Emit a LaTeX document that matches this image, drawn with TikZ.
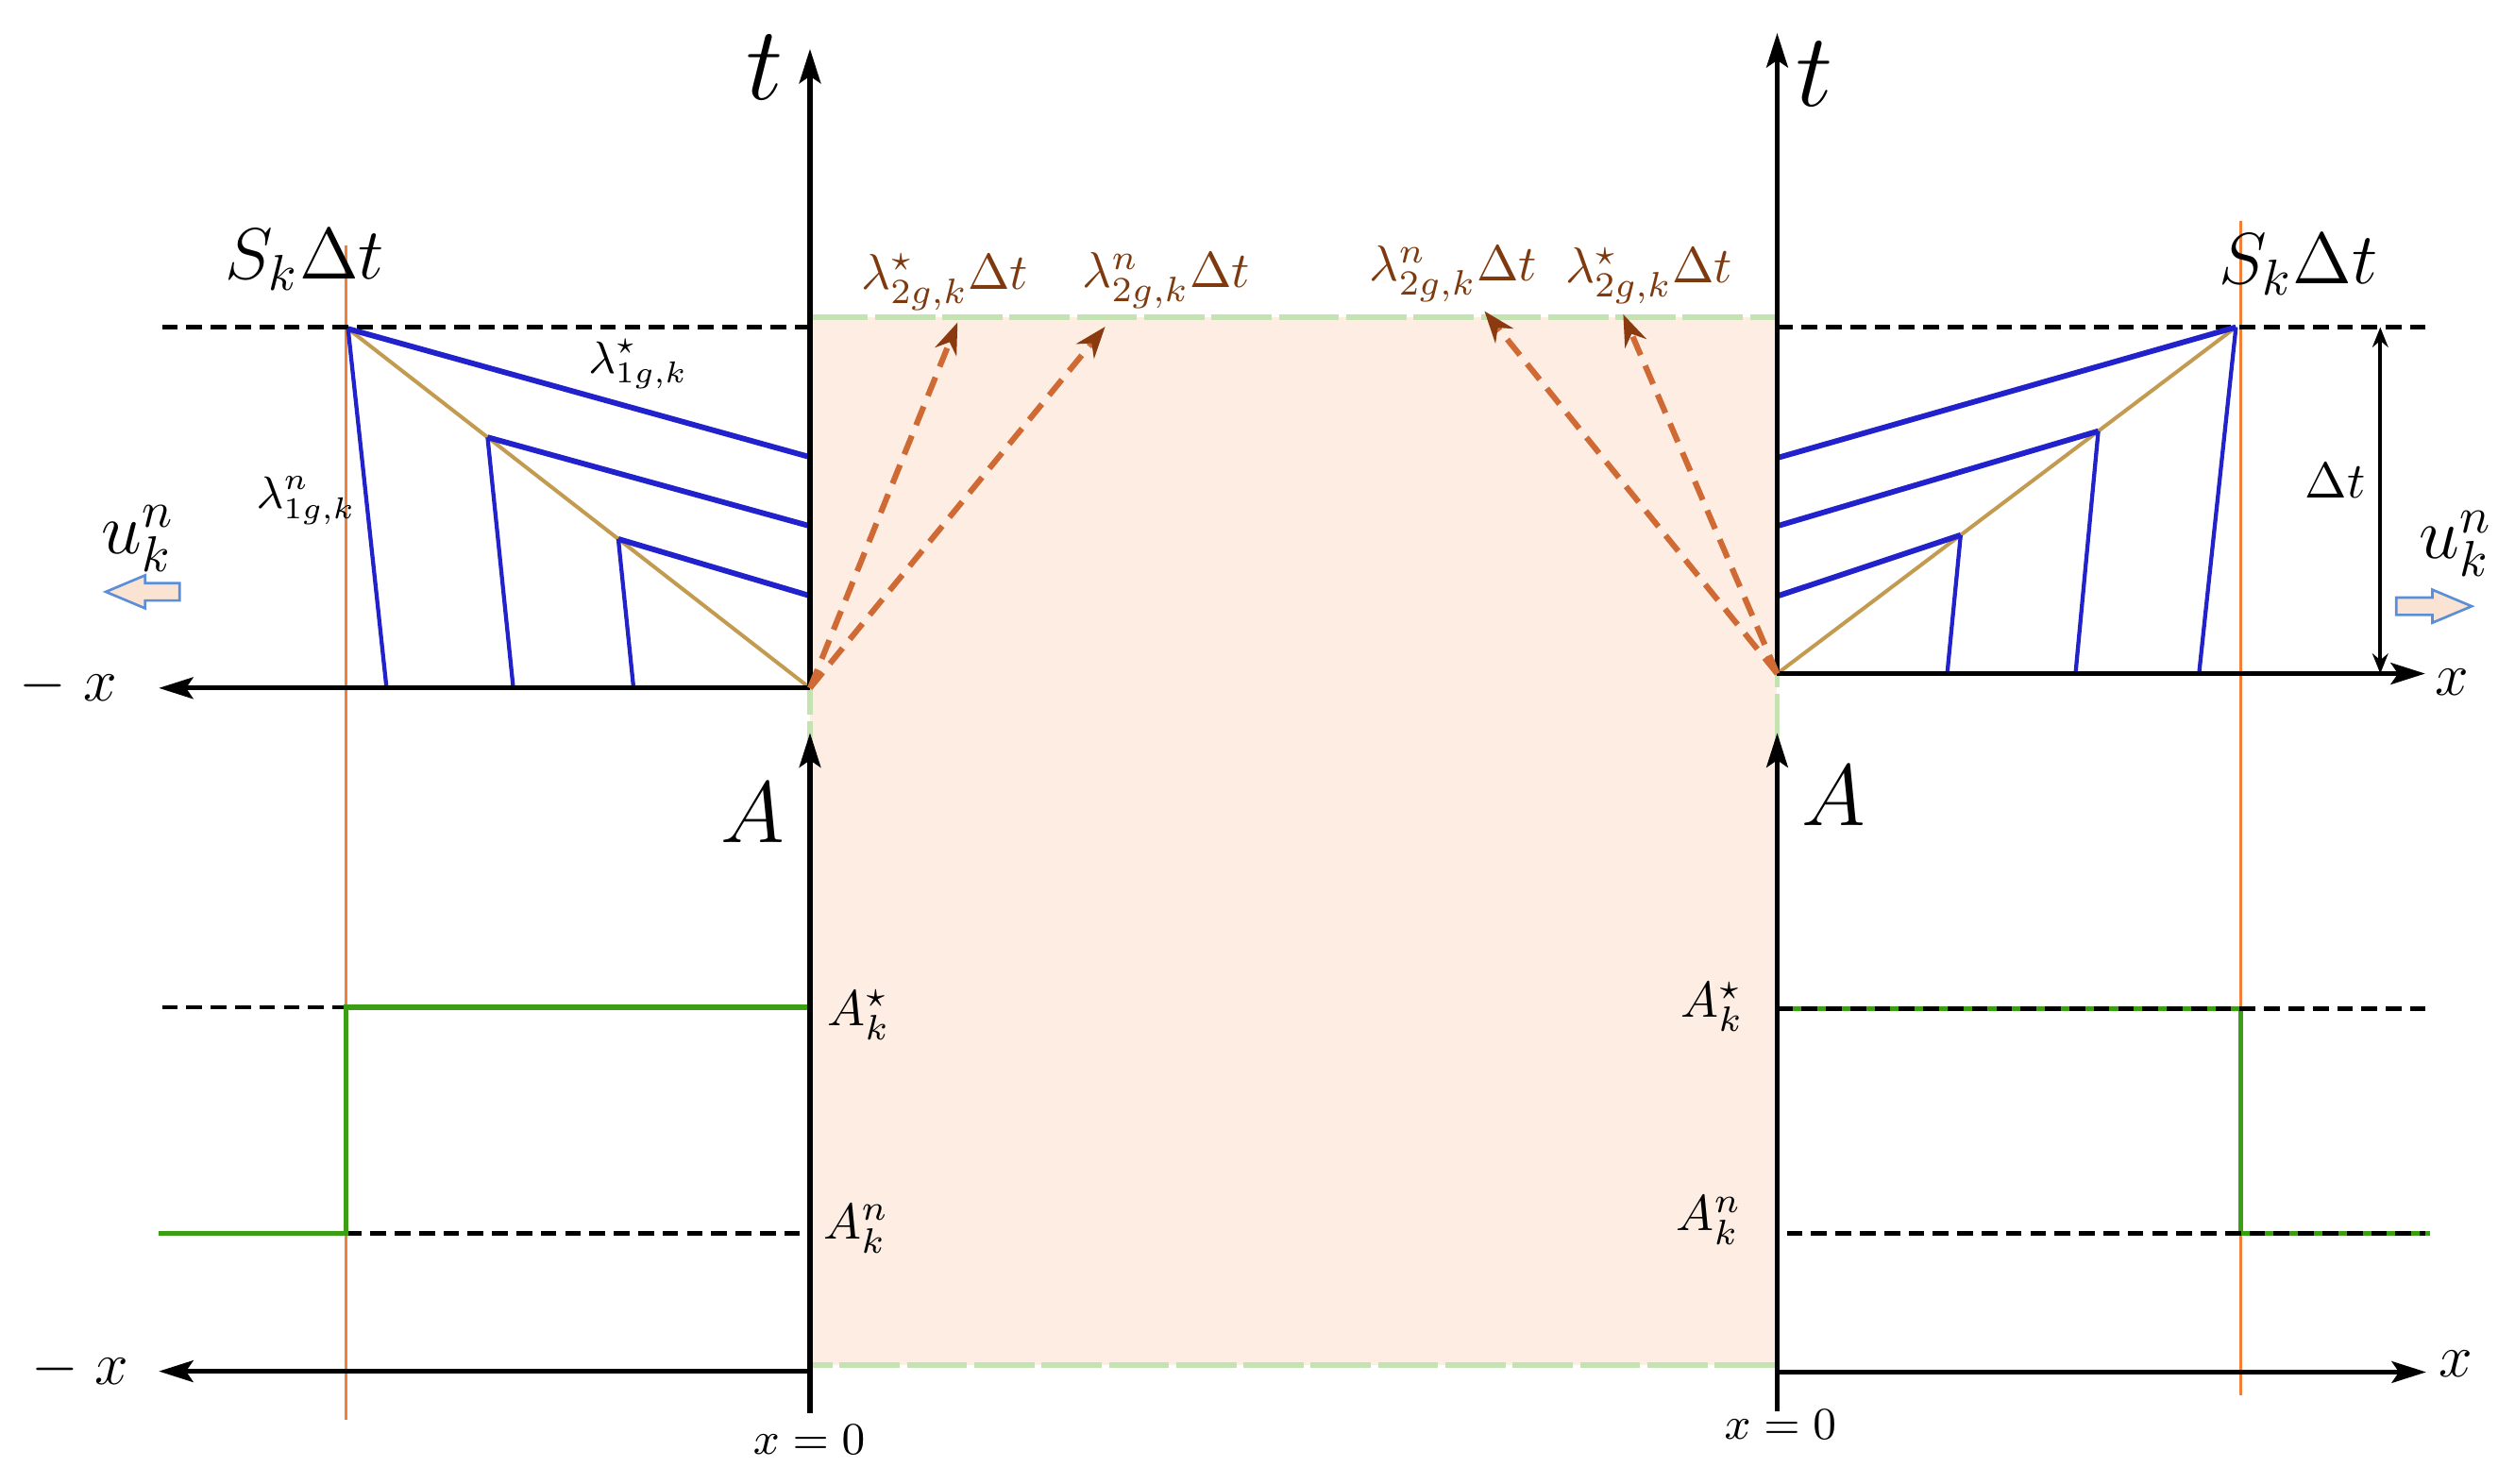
\documentclass[tikz,border=0pt]{standalone}
\usetikzlibrary{arrows.meta,calc}
\definecolor{peach}{RGB}{253,237,226}
\definecolor{rimgreen}{RGB}{197,227,178}
\definecolor{fanblue}{RGB}{34,34,204}
\definecolor{goldc}{RGB}{194,154,80}
\definecolor{shockc}{RGB}{240,128,56}
\definecolor{stepgreen}{RGB}{60,158,20}
\definecolor{wavec}{RGB}{208,106,53}
\definecolor{wavehead}{RGB}{138,58,14}
\definecolor{labbrown}{RGB}{126,58,14}
\definecolor{hollowfill}{RGB}{251,227,211}
\definecolor{hollowdraw}{RGB}{91,142,216}
\begin{document}
\begin{tikzpicture}[x=0.112mm,y=-0.112mm,
  axisline/.style={line width=0.95pt,black,-{Stealth[length=2.4mm,width=1.5mm,inset=0.5mm]}},
  refdash/.style={line width=0.9pt,black,dash pattern=on 1.1mm off 0.6mm},
  fanhi/.style={line width=1.1pt,fanblue},
  fanlo/.style={line width=0.8pt,fanblue},
  goldline/.style={line width=0.75pt,goldc},
  shockline/.style={line width=0.6pt,shockc},
  arealine/.style={line width=1pt,stepgreen},
  wave/.style={line width=1.15pt,wavec,dash pattern=on 1.4mm off 0.8mm,-{Stealth[length=2.2mm,width=1.6mm,color=wavehead]}},
  dtarrow/.style={line width=0.7pt,black,{Stealth[length=1.4mm,width=1.1mm]}-{Stealth[length=1.4mm,width=1.1mm]}},
  hollow/.style={line width=0.5pt,draw=hollowdraw,fill=hollowfill},
  lab/.style={inner sep=0pt},
  biglab/.style={inner sep=0pt,font=\huge},
  alab/.style={inner sep=0pt,font=\LARGE},
  xlab/.style={inner sep=0pt,font=\large},
  wlab/.style={inner sep=0pt,text=labbrown}
]
\useasboundingbox (0,0) rectangle (1568,925);

% ---------- shaded region ----------
\fill[peach] (505,198) rectangle (1108,851);
\draw[rimgreen,line width=1.1pt,dash pattern=on 4.2mm off 0.5mm] (505,198) rectangle (1108,851);

% ---------- coordinates ----------
\coordinate (oL) at (505,429);
\coordinate (oR) at (1108,420);
\coordinate (tLtop) at (505,30.5);
\coordinate (tRtop) at (1108,20.6);
\coordinate (xLtop) at (99,429);
\coordinate (xRtop) at (1512,420);
\coordinate (aLbot) at (505,881);
\coordinate (aLtop) at (505,457);
\coordinate (aRbot) at (1108,880);
\coordinate (aRtop) at (1108,457);
\coordinate (bL) at (505,855);
\coordinate (bLend) at (99,855);
\coordinate (bR) at (1108,855.5);
\coordinate (bRend) at (1512.6,855.5);

% shock lines (orange verticals)
\coordinate (sLt) at (215.7,153);
\coordinate (sLb) at (215.7,885);
\coordinate (sRt) at (1397,138);
\coordinate (sRb) at (1397,870);
\draw[shockline] (sLt) -- (sLb);
\draw[shockline] (sRt) -- (sRb);

% top dashed lines (t = Delta t)
\coordinate (dLa) at (101,204);
\coordinate (dLb) at (505,204);
\coordinate (dRa) at (1108,204);
\coordinate (dRb) at (1512,204);
\draw[refdash] (dLa) -- (dLb);
\draw[refdash] (dRa) -- (dRb);

% ---------- left fan ----------
\coordinate (apL) at (217,205);
\coordinate (pmL) at ($(apL)!0.302!(oL)$);
\coordinate (plL) at ($(apL)!0.585!(oL)$);
\coordinate (eL1) at (505,285);
\coordinate (eL2) at (505,328);
\coordinate (eL3) at (505,371.5);
\coordinate (fL1) at (241,429);
\coordinate (fL2) at (320,429);
\coordinate (fL3) at (395,429);
\draw[goldline] (apL) -- (oL);
\draw[fanhi] (apL) -- (eL1);
\draw[fanhi] (pmL) -- (eL2);
\draw[fanhi] (plL) -- (eL3);
\draw[fanlo] (apL) -- (fL1);
\draw[fanlo] (pmL) -- (fL2);
\draw[fanlo] (plL) -- (fL3);

% ---------- right fan ----------
\coordinate (apR) at (1394,204);
\coordinate (pmR) at ($(apR)!0.30!(oR)$);
\coordinate (plR) at ($(apR)!0.60!(oR)$);
\coordinate (eR1) at (1108,285.5);
\coordinate (eR2) at (1108,328);
\coordinate (eR3) at (1108,371.7);
\coordinate (fR1) at (1371,420);
\coordinate (fR2) at (1294,420);
\coordinate (fR3) at (1214,420);
\draw[goldline] (apR) -- (oR);
\draw[fanhi] (apR) -- (eR1);
\draw[fanhi] (pmR) -- (eR2);
\draw[fanhi] (plR) -- (eR3);
\draw[fanlo] (apR) -- (fR1);
\draw[fanlo] (pmR) -- (fR2);
\draw[fanlo] (plR) -- (fR3);

% ---------- lower panel: A levels ----------
\coordinate (gL1) at (215.7,628);
\coordinate (gL2) at (505,628);
\coordinate (gL3) at (215.7,769);
\coordinate (gL4) at (99,769);
\coordinate (kL1) at (101,628);
\coordinate (kL2) at (499,769);
\draw[refdash] (kL1) -- (gL1);
\draw[refdash] (gL3) -- (kL2);
\draw[arealine] (gL4) -- (gL3) -- (gL1) -- (gL2);

\coordinate (gR1) at (1108,629);
\coordinate (gR2) at (1397,629);
\coordinate (gR3) at (1397,769);
\coordinate (gR4) at (1515,769);
\coordinate (kR1) at (1512,629);
\coordinate (kR2) at (1114,769);
\coordinate (kR3) at (1512,769);
\draw[arealine] (gR1) -- (gR2) -- (gR3) -- (gR4);
\draw[refdash] (gR1) -- (kR1);
\draw[refdash] (kR2) -- (kR3);

% ---------- axes ----------
\draw[axisline] (oL) -- (tLtop);
\draw[axisline] (oL) -- (xLtop);
\draw[axisline] (oR) -- (tRtop);
\draw[axisline] (oR) -- (xRtop);
\draw[axisline] (aLbot) -- (aLtop);
\draw[axisline] (aRbot) -- (aRtop);
\draw[axisline] (bL) -- (bLend);
\draw[axisline] (bR) -- (bRend);

% Delta t dimension arrow
\coordinate (dtA) at (1484,204);
\coordinate (dtB) at (1484,420);
\draw[dtarrow] (dtA) -- (dtB);

% ---------- wave arrows ----------
\coordinate (wL1) at (597,201);
\coordinate (wL2) at (689,203.7);
\coordinate (wR1) at (925.5,194);
\coordinate (wR2) at (1012,196);
\draw[wave] (oL) -- (wL1);
\draw[wave] (oL) -- (wL2);
\draw[wave] (oR) -- (wR1);
\draw[wave] (oR) -- (wR2);

% ---------- hollow velocity arrows ----------
\draw[hollow] (66,369) -- (90.5,358.7) -- (90.5,363.6) -- (112,363.6) -- (112,374.4) -- (90.5,374.4) -- (90.5,379.3) -- cycle;
\draw[hollow] (1541,378) -- (1516.5,367.7) -- (1516.5,372.6) -- (1494,372.6) -- (1494,383.4) -- (1516.5,383.4) -- (1516.5,388.3) -- cycle;

% ---------- labels ----------
\node[biglab] (tL) at (477,42) {$t$};
\node[biglab] (tR) at (1131,46) {$t$};
\node[alab] (AL) at (469,507) {$A$};
\node[alab] (AR) at (1143,496) {$A$};
\node[xlab] (mxT) at (42.6,427.7) {$-\;x$};
\node[xlab] (mxB) at (50,853.5) {$-\;x$};
\node[xlab] (xT) at (1528.5,425.3) {$x$};
\node[xlab] (xB) at (1531,850.5) {$x$};
\node[lab,font=\small] (x0L) at (504.5,897.6) {$x=0$};
\node[lab,font=\small] (x0R) at (1110,888) {$x=0$};
\node[lab,font=\Large] (SL) at (190,162) {$S_k\Delta t$};
\node[lab,font=\Large] (SR) at (1433,165) {$S_k\Delta t$};
\node[lab,font=\Large] (uL) at (86,336) {$u_k^n$};
\node[lab,font=\Large] (uR) at (1531,339) {$u_k^n$};
\node[lab,font=\small] (l1s) at (398,227) {$\lambda^{\star}_{1g,k}$};
\node[lab,font=\small] (l1n) at (191,312) {$\lambda^{n}_{1g,k}$};
\node[lab] (dt) at (1456,300) {$\Delta t$};
\node[wlab] (w1) at (589,176) {$\lambda^{\star}_{2g,k}\Delta t$};
\node[wlab] (w2) at (727,175) {$\lambda^{n}_{2g,k}\Delta t$};
\node[wlab] (w3) at (906,171) {$\lambda^{n}_{2g,k}\Delta t$};
\node[wlab] (w4) at (1028,172) {$\lambda^{\star}_{2g,k}\Delta t$};
\node[lab] (AsL) at (535.5,633) {$A_k^{\star}$};
\node[lab] (AnL) at (534,766) {$A_k^{n}$};
\node[lab] (AsR) at (1067.5,628) {$A_k^{\star}$};
\node[lab] (AnR) at (1065.5,761) {$A_k^{n}$};
\end{tikzpicture}
\end{document}
